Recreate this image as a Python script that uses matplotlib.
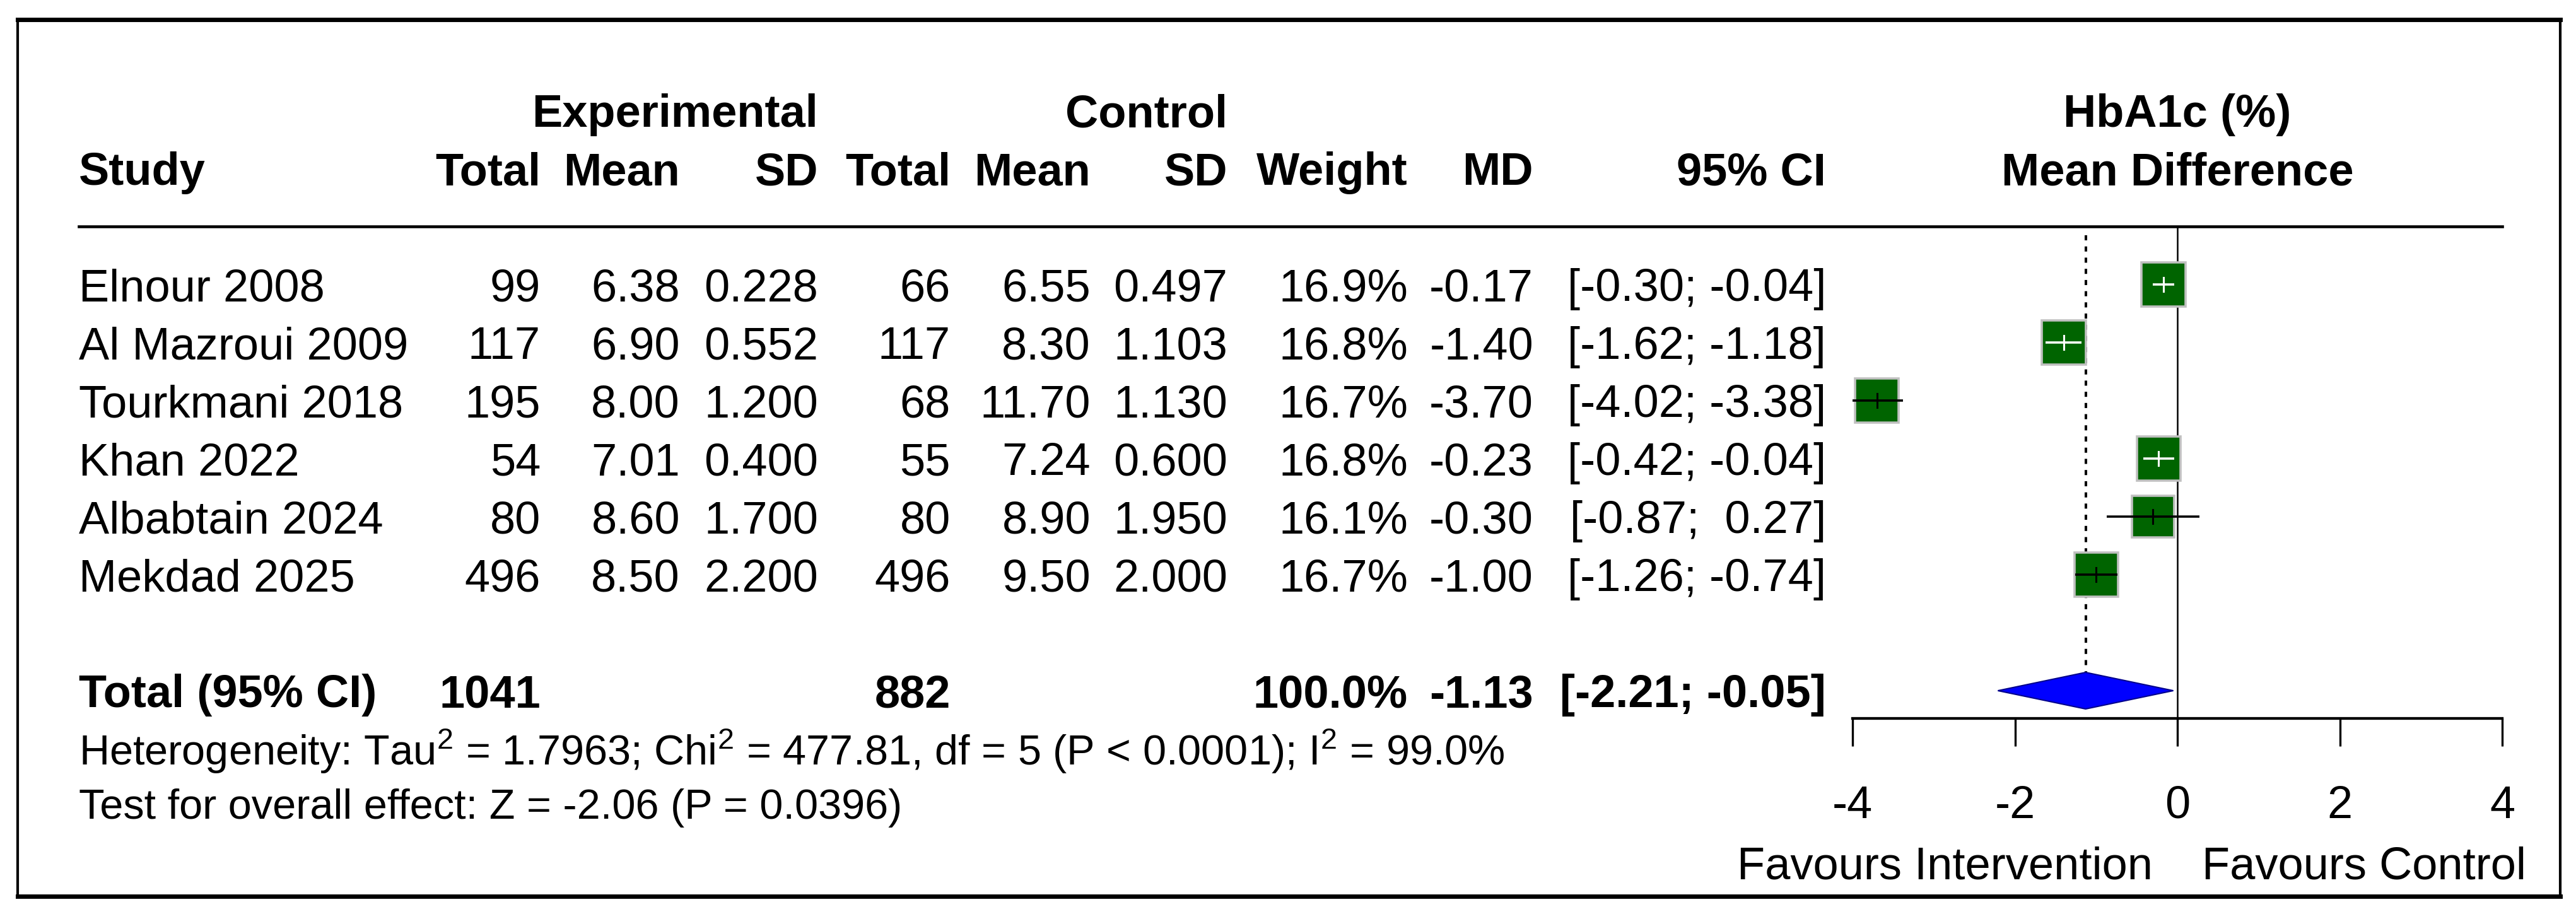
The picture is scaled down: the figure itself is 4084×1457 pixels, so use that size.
import matplotlib
matplotlib.use('Agg')
import matplotlib.pyplot as plt
from matplotlib.patches import Rectangle, Polygon
from matplotlib.transforms import blended_transform_factory

plt.rcParams['font.family'] = ['Liberation Sans', 'DejaVu Sans']
plt.rcParams['mathtext.fontset'] = 'custom'
plt.rcParams['mathtext.rm'] = 'Liberation Sans'
plt.rcParams['mathtext.default'] = 'regular'
plt.rcParams['axes.unicode_minus'] = False

# study data
studies = ['Elnour 2008', 'Al Mazroui 2009', 'Tourkmani 2018', 'Khan 2022',
           'Albabtain 2024', 'Mekdad 2025']
exp_n = [99, 117, 195, 54, 80, 496]
exp_mean = [6.38, 6.90, 8.00, 7.01, 8.60, 8.50]
exp_sd = [0.228, 0.552, 1.200, 0.400, 1.700, 2.200]
ctl_n = [66, 117, 68, 55, 80, 496]
ctl_mean = [6.55, 8.30, 11.70, 7.24, 8.90, 9.50]
ctl_sd = [0.497, 1.103, 1.130, 0.600, 1.950, 2.000]
weight = [16.9, 16.8, 16.7, 16.8, 16.1, 16.7]
md = [-0.17, -1.40, -3.70, -0.23, -0.30, -1.00]
ci_lo = [-0.30, -1.62, -4.02, -0.42, -0.87, -1.26]
ci_hi = [-0.04, -1.18, -3.38, -0.04, 0.27, -0.74]

# pooled
tot_exp_n = 1041
tot_ctl_n = 882
tot_weight = 100.0
tot_md = -1.13
tot_lo = -2.21
tot_hi = -0.05

het_text = r'Heterogeneity: Tau$^2$ = 1.7963; Chi$^2$ = 477.81, df = 5 (P < 0.0001); I$^2$ = 99.0%'
test_text = 'Test for overall effect: Z = -2.06 (P = 0.0396)'
xticks = [-4, -2, 0, 2, 4]

W, H = 4084, 1457
fig = plt.figure(figsize=(W / 100, H / 100), dpi=100)
ax = fig.add_axes([0, 0, 1, 1])
ax.set_xlim(0, W)
ax.set_ylim(H, 0)
ax.axis('off')

fs = 52
row0 = 477    # baseline of first study row
dy = 92
row_mid0 = 451
total_row = 7

# right edges of the table columns
c_study = 125
c_etot, c_emean, c_esd = 857, 1078, 1297
c_ctot, c_cmean, c_csd = 1507, 1729, 1946
c_w, c_md, c_ci = 2232, 2431, 2895

def txt(x, y, s, ha='right', bold=False, size=fs):
    ax.text(x, y, s, ha=ha, va='baseline', fontsize=size,
            fontweight='bold' if bold else 'normal')

# header
txt(c_esd, 201, 'Experimental', bold=True)
txt(c_csd, 201, 'Control', bold=True)
txt(c_study, 293, 'Study', ha='left', bold=True)
for x, s in [(c_etot, 'Total'), (c_emean, 'Mean'), (c_esd, 'SD'),
             (c_ctot, 'Total'), (c_cmean, 'Mean'), (c_csd, 'SD'),
             (c_w, 'Weight'), (c_md, 'MD'), (c_ci, '95% CI')]:
    txt(x, 293, s, bold=True)

# rows
for i in range(len(studies)):
    y = row0 + dy * i
    txt(c_study, y, studies[i], ha='left')
    txt(c_etot, y, str(exp_n[i]))
    txt(c_emean, y, f'{exp_mean[i]:.2f}')
    txt(c_esd, y, f'{exp_sd[i]:.3f}')
    txt(c_ctot, y, str(ctl_n[i]))
    txt(c_cmean, y, f'{ctl_mean[i]:.2f}')
    txt(c_csd, y, f'{ctl_sd[i]:.3f}')
    txt(c_w, y, f'{weight[i]:.1f}%')
    txt(c_md, y, f'{md[i]:.2f}')
    txt(c_ci, y, f'[{ci_lo[i]:5.2f}; {ci_hi[i]:5.2f}]')

yt = row0 + dy * total_row
txt(c_study, yt, 'Total (95% CI)', ha='left', bold=True)
txt(c_etot, yt, str(tot_exp_n), bold=True)
txt(c_ctot, yt, str(tot_ctl_n), bold=True)
txt(c_w, yt, f'{tot_weight:.1f}%', bold=True)
txt(c_md, yt, f'{tot_md:.2f}', bold=True)
txt(c_ci, yt, f'[{tot_lo:5.2f}; {tot_hi:5.2f}]', bold=True)

txt(c_study, 1213, het_text, ha='left', size=48)
txt(c_study, 1298, test_text, ha='left', size=48)

# forest panel
x_m4, x_p4 = 2937, 3967
y_top, y_axis = 359, 1139
ax2 = fig.add_axes([x_m4 / W, 1 - y_axis / H, (x_p4 - x_m4) / W, (y_axis - y_top) / H])
ax2.set_xlim(-4, 4)
y_bot = (y_axis - row_mid0) / dy
ax2.set_ylim(y_bot, (y_top - row_mid0) / dy)
ax2.patch.set_alpha(0)
for s in ['top', 'left', 'right']:
    ax2.spines[s].set_visible(False)
ax2.spines['bottom'].set_linewidth(3.1)
ax2.set_yticks([])
ax2.set_xticks(xticks)
ax2.set_xticklabels([str(t) for t in xticks])
ax2.tick_params(axis='x', direction='out', length=32, width=2.4, pad=44, labelsize=fs)

unit_x = (x_p4 - x_m4) / 8
for i in range(len(studies)):
    side = 70 * weight[i] / 16.9
    bw, bh = side / unit_x, side / dy
    ax2.add_patch(Rectangle((md[i] - bw / 2, i - bh / 2), bw, bh, facecolor='#006400',
                            edgecolor='#c0c0c0', linewidth=2.6, zorder=3))
    inside = ci_lo[i] >= md[i] - bw / 2 + 0.02 and ci_hi[i] <= md[i] + bw / 2 - 0.02
    c = 'white' if inside else 'black'
    ax2.plot([ci_lo[i], ci_hi[i]], [i, i], color=c, lw=2.6, zorder=4, solid_capstyle='butt')
    ax2.plot([md[i], md[i]], [i - 0.12, i + 0.12], color=c, lw=2.2, zorder=4)

h = 29 / dy
ax2.add_patch(Polygon([(tot_lo, total_row), (tot_md, total_row - h), (tot_hi, total_row),
                       (tot_md, total_row + h)], closed=True, facecolor='#0000ff',
                      edgecolor='#00008b', linewidth=1.5, zorder=3))
ax2.plot([tot_md, tot_md], [-0.85, total_row - h], color='black', lw=2.9,
         ls=(0, (2, 2.4)), zorder=2)
ax2.plot([0, 0], [(y_top - row_mid0) / dy, y_bot], color='black', lw=1.8, zorder=2,
         clip_on=False)

# column headers and direction labels over the forest panel
bt = blended_transform_factory(ax2.transData, ax.transData)
ax.text(0, 201, 'HbA1c (%)', transform=bt, ha='center', va='baseline', fontsize=fs,
        fontweight='bold')
ax.text(0, 293, 'Mean Difference', transform=bt, ha='center', va='baseline', fontsize=fs,
        fontweight='bold')
ax.text(-0.3, 1393, 'Favours Intervention', transform=bt, ha='right', va='baseline',
        fontsize=fs)
ax.text(0.3, 1393, 'Favours Control', transform=bt, ha='left', va='baseline', fontsize=fs)

# header rule and frame
ax.plot([c_study, x_p4], [359, 359], color='black', lw=3.3)
ax.plot([28, 4059], [31, 31], color='black', lw=5)
ax.plot([28, 4059], [1421, 1421], color='black', lw=5)
ax.plot([28, 28], [31, 1421], color='black', lw=3)
ax.plot([4059, 4059], [31, 1421], color='black', lw=3)

fig.savefig('out.png', dpi=100)
